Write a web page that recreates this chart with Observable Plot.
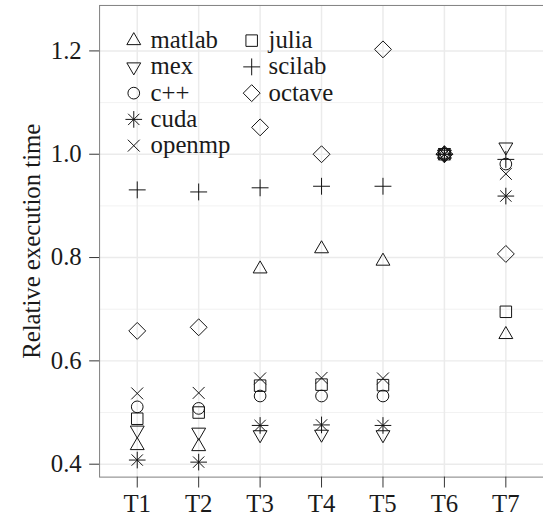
<!DOCTYPE html>
<html><head><meta charset="utf-8">
<script src="https://cdn.jsdelivr.net/npm/d3@7"></script>
<script src="https://cdn.jsdelivr.net/npm/@observablehq/plot@0.6"></script>
<style>
html,body{margin:0;padding:0;background:#fff;overflow:hidden;}
#chart{position:relative;width:543px;height:524px;overflow:hidden;}
#chart svg{display:block;}
</style></head><body><div id="chart"></div>
<script>
const tasks = ["T1","T2","T3","T4","T5","T6","T7"];
const languages = ["matlab","mex","c++","cuda","openmp","julia","scilab","octave"];
const matlab = [0.436,0.434,0.778,0.817,0.793,1.0,0.651];
const mex    = [0.466,0.462,0.457,0.458,0.457,1.0,1.014];
const cpp    = [0.511,0.508,0.532,0.532,0.532,1.0,0.981];
const cuda   = [0.408,0.404,0.475,0.476,0.475,1.0,0.919];
const openmp = [0.537,0.538,0.566,0.567,0.566,1.0,0.962];
const julia  = [0.488,0.500,0.552,0.554,0.553,1.0,0.695];
const scilab = [0.931,0.927,0.935,0.938,0.938,1.0,0.990];
const octave = [0.658,0.665,1.052,1.000,1.203,1.0,0.807];
const yTicks = [0.4,0.6,0.8,1.0,1.2];
const yMinor = [0.5,0.7,0.9,1.1];

function sym(fn){ return {draw(c, size){ fn(c, Math.sqrt(size/Math.PI)); }}; }
const shapes = {
  triangleUp: sym((c,r)=>{ c.moveTo(0,-1.555*r); c.lineTo(1.347*r,0.778*r); c.lineTo(-1.347*r,0.778*r); c.closePath(); }),
  triangleDown: sym((c,r)=>{ c.moveTo(0,1.555*r); c.lineTo(1.347*r,-0.778*r); c.lineTo(-1.347*r,-0.778*r); c.closePath(); }),
  circle: sym((c,r)=>{ c.moveTo(r,0); c.arc(0,0,r,0,2*Math.PI); c.closePath(); }),
  square: sym((c,r)=>{ c.rect(-r,-r,2*r,2*r); }),
  asterisk: sym((c,r)=>{ const a=1.4*r, b=0.95*r; c.moveTo(-a,0); c.lineTo(a,0); c.moveTo(0,-a); c.lineTo(0,a); c.moveTo(-b,-b); c.lineTo(b,b); c.moveTo(-b,b); c.lineTo(b,-b); }),
  times: sym((c,r)=>{ c.moveTo(-r,-r); c.lineTo(r,r); c.moveTo(-r,r); c.lineTo(r,-r); }),
  plus: sym((c,r)=>{ const a=1.42*r; c.moveTo(-a,0); c.lineTo(a,0); c.moveTo(0,-a); c.lineTo(0,a); }),
  diamond: sym((c,r)=>{ const a=1.42*r; c.moveTo(0,-a); c.lineTo(a,0); c.lineTo(0,a); c.lineTo(-a,0); c.closePath(); })
};
const series = [
  {name:"matlab", values:matlab, shape:shapes.triangleUp, r:5.2},
  {name:"mex", values:mex, shape:shapes.triangleDown, r:5.2},
  {name:"c++", values:cpp, shape:shapes.circle, r:5.9},
  {name:"cuda", values:cuda, shape:shapes.asterisk, r:6},
  {name:"openmp", values:openmp, shape:shapes.times, r:6},
  {name:"julia", values:julia, shape:shapes.square, r:5.8},
  {name:"scilab", values:scilab, shape:shapes.plus, r:6},
  {name:"octave", values:octave, shape:shapes.diamond, r:6}
];
const FONT = "'Liberation Serif', serif";
const FS = 25;

const plot = Plot.plot({
  width: 548, height: 524,
  marginLeft: 100, marginRight: 0, marginTop: 5, marginBottom: 43,
  style: {fontFamily: FONT, fontSize: FS + "px", color: "#1a1a1a", background: "#fff"},
  x: {type: "point", domain: tasks, padding: 0.6},
  y: {domain: [0.375, 1.288]},
  marks: [
    Plot.ruleY(yMinor, {stroke: "#f2f2f2", strokeWidth: 1}),
    Plot.ruleY(yTicks, {stroke: "#ebebeb", strokeWidth: 1.5}),
    Plot.ruleX(tasks, {stroke: "#ebebeb", strokeWidth: 1.5}),
    Plot.frame({stroke: "#7f7f7f", strokeWidth: 1}),
    Plot.axisY({ticks: yTicks, tickFormat: d3.format(".1f"), tickSize: 10, tickPadding: 8, stroke: "#333", fill: "#1a1a1a", fontSize: FS,
      label: "Relative execution time", labelAnchor: "center", labelArrow: false, labelOffset: 78}),
    Plot.axisX({tickSize: 11, tickPadding: 6, stroke: "#333", fill: "#1a1a1a", fontSize: FS, label: null}),
    ...series.map(s => Plot.dot(s.values, {x: (d, i) => tasks[i], y: d => d, symbol: s.shape, r: s.r, fill: "none", stroke: "#111", strokeWidth: 1}))
  ]
});
document.getElementById("chart").appendChild(plot);

// legend (inside panel, top-left, column-major: 5 rows then 3)
const svg = d3.select(plot);
const lg = svg.append("g").attr("font-family", FONT).attr("font-size", FS).attr("fill", "#1a1a1a").attr("text-anchor", "start");
const rowH = 26.5, row0 = 41;
series.forEach((s, i) => {
  const col = i < 5 ? 0 : 1, row = i < 5 ? i : i - 5;
  const sx = col === 0 ? 135 : 254, tx = col === 0 ? 152 : 271, cy = row0 + row * rowH;
  lg.append("path").attr("transform", `translate(${sx},${cy})`)
    .attr("d", d3.symbol(s.shape, Math.PI * s.r * s.r)())
    .attr("fill", "none").attr("stroke", "#111").attr("stroke-width", 1);
  lg.append("text").attr("x", tx).attr("y", cy).attr("dy", "0.3em").attr("text-anchor", "start").text(s.name);
});
</script></body></html>
